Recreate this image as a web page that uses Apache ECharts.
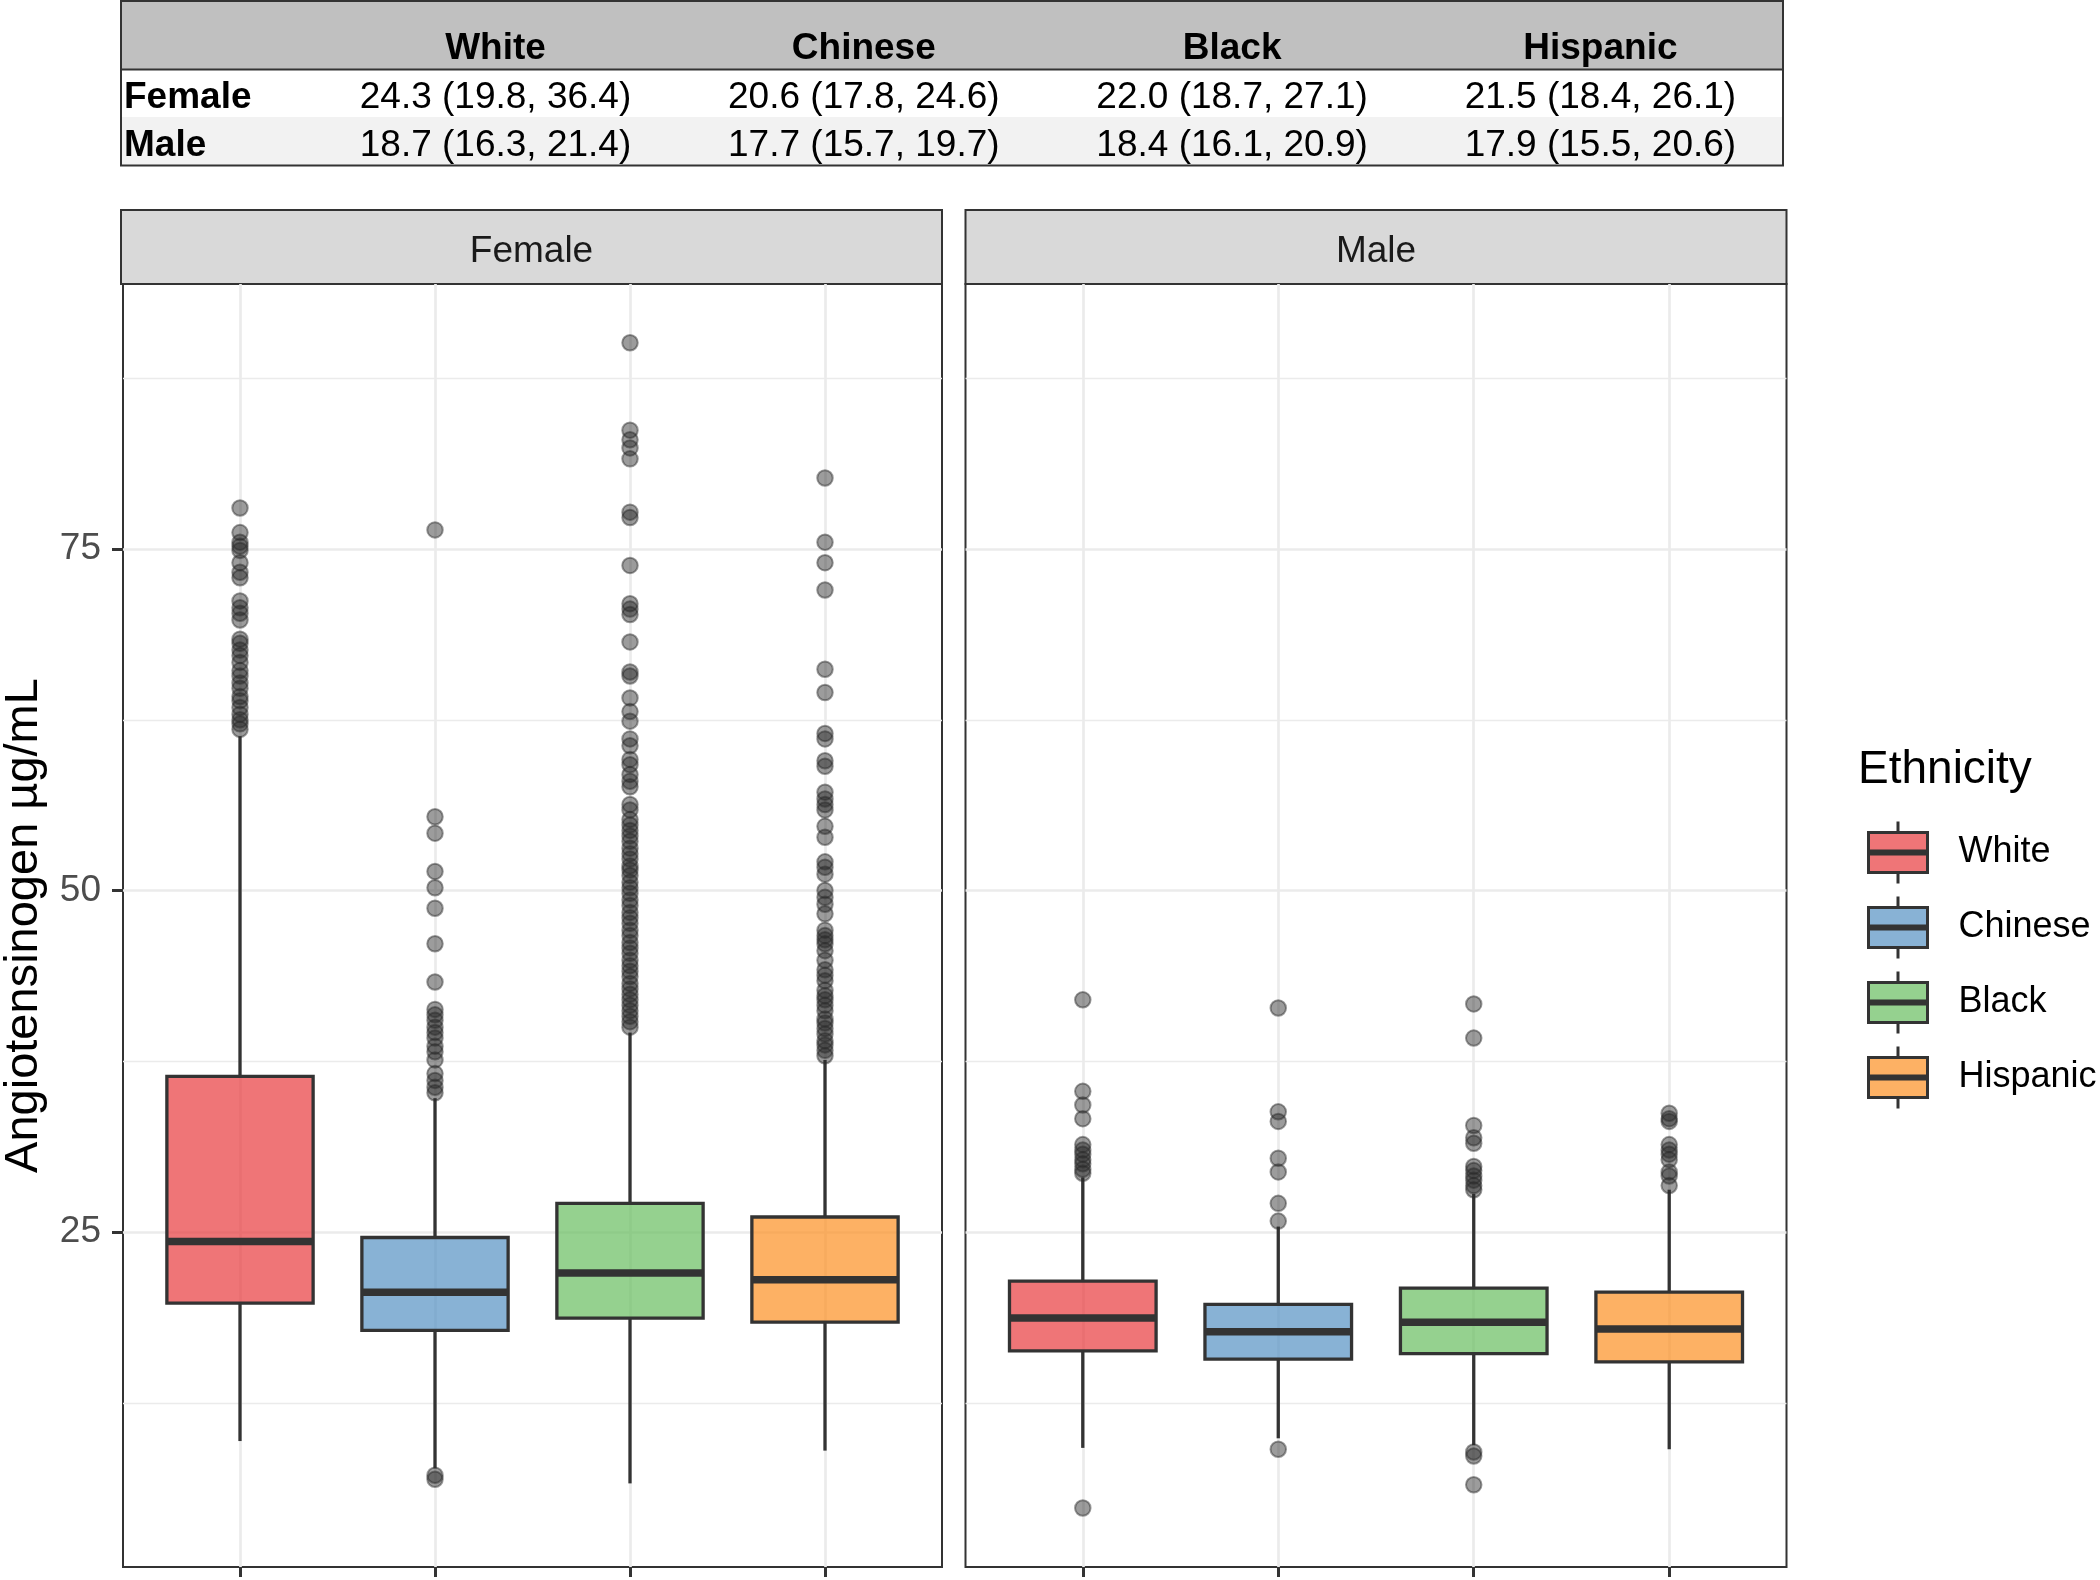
<!DOCTYPE html>
<html>
<head>
<meta charset="utf-8">
<script src="https://cdn.jsdelivr.net/npm/echarts@6/dist/echarts.min.js"></script>
<style>
  html, body { margin: 0; padding: 0; background: #fff; }
  #chart { width: 2100px; height: 1580px; }
</style>
</head>
<body>
<div id="chart"></div>
<script>
// categories
const ethnicities = ['White', 'Chinese', 'Black', 'Hispanic'];
const panels = ['Female', 'Male'];
const xPositions = [1, 2, 3, 4];
const yTicks = [25, 50, 75];
const yMinorTicks = [12.5, 37.5, 62.5, 87.5];

// box stats, order White, Chinese, Black, Hispanic
const femaleMedian = [24.3, 20.6, 22.0, 21.5];
const femaleQ1 = [19.8, 17.8, 18.7, 18.4];
const femaleQ3 = [36.4, 24.6, 27.1, 26.1];
const femaleLow = [9.7, 7.7, 6.6, 9.0];
const femaleHigh = [61.3, 34.8, 39.6, 37.6];

const maleMedian = [18.7, 17.7, 18.4, 17.9];
const maleQ1 = [16.3, 15.7, 16.1, 15.5];
const maleQ3 = [21.4, 19.7, 20.9, 20.6];
const maleLow = [9.2, 9.9, 9.4, 9.1];
const maleHigh = [29.0, 25.4, 27.8, 28.1];

// outliers
const femaleOutWhite = [78.0, 76.2, 75.5, 75.2, 74.9, 74.0, 73.3, 72.9, 71.2, 70.7, 70.3, 69.8, 68.4, 68.1, 67.6, 67.2, 66.7, 66.1, 65.7, 65.2, 64.8, 64.2, 63.9, 63.4, 62.9, 62.5, 62.2, 61.8];
const femaleOutChinese = [76.4, 55.4, 54.2, 51.4, 50.2, 48.7, 46.1, 43.3, 41.3, 40.9, 40.5, 40.0, 39.6, 39.2, 38.6, 38.2, 37.6, 36.6, 36.1, 35.6, 35.2, 7.2, 6.9];
const femaleOutBlack = [90.1, 83.7, 83.0, 82.4, 81.6, 77.7, 77.3, 73.8, 71.0, 70.6, 70.2, 68.2, 66.0, 65.7, 64.1, 63.1, 62.4, 61.1, 60.6, 59.6, 59.2, 58.5, 58.0, 57.6, 56.3, 55.9, 55.2, 54.8, 54.4, 54.0, 53.6, 53.1, 52.7, 52.3, 51.8, 51.5, 51.1, 50.6, 50.2, 49.8, 49.3, 48.9, 48.4, 48.0, 47.6, 47.1, 46.7, 46.2, 45.8, 45.4, 44.9, 44.5, 44.1, 43.7, 43.2, 42.8, 42.4, 42.0, 41.6, 41.2, 40.8, 40.4, 40.0];
const femaleOutHispanic = [80.2, 75.5, 74.0, 72.0, 66.2, 64.5, 61.5, 61.1, 59.5, 59.1, 57.2, 56.7, 56.3, 55.9, 54.7, 53.9, 52.1, 51.7, 51.2, 50.0, 49.5, 49.0, 48.3, 47.1, 46.7, 46.4, 46.1, 45.6, 44.9, 44.2, 43.8, 43.4, 42.7, 42.3, 42.0, 41.6, 41.2, 40.6, 40.3, 39.9, 39.5, 39.0, 38.7, 38.3, 37.9];

const maleOutWhite = [42.0, 35.3, 34.3, 33.3, 31.4, 31.0, 30.7, 30.3, 30.0, 29.6, 29.3, 4.8];
const maleOutChinese = [41.4, 33.8, 33.1, 30.4, 29.4, 27.1, 25.8, 9.1];
const maleOutBlack = [41.7, 39.2, 32.8, 31.9, 31.5, 29.8, 29.5, 29.1, 28.8, 28.4, 28.1, 8.9, 8.6, 6.5];
const maleOutHispanic = [33.7, 33.3, 33.1, 31.4, 31.0, 30.7, 30.3, 29.4, 29.1, 28.4];

const stats = [
  { low: femaleLow, q1: femaleQ1, med: femaleMedian, q3: femaleQ3, high: femaleHigh,
    out: [femaleOutWhite, femaleOutChinese, femaleOutBlack, femaleOutHispanic] },
  { low: maleLow, q1: maleQ1, med: maleMedian, q3: maleQ3, high: maleHigh,
    out: [maleOutWhite, maleOutChinese, maleOutBlack, maleOutHispanic] }
];

// styles / layout
const boxColors = ['rgba(232,58,61,0.7)', 'rgba(85,145,195,0.7)', 'rgba(104,189,95,0.7)', 'rgba(252,144,34,0.7)'];
const FONT = '"Liberation Sans", Arial, sans-serif';
const gridLefts = [121, 965.5];
const gridTop = 284, gridW = 821, gridH = 1283;
const stripTop = 210;
const tableLeft = 121, tableW = 1662;
const colCenters = [495.5, 863.8, 1232.1, 1600.4];

const chart = echarts.init(document.getElementById('chart'));

function renderBox(params, api) {
  const x = api.value(0);
  const low = api.coord([x, api.value(1)]);
  const q1 = api.coord([x, api.value(2)]);
  const med = api.coord([x, api.value(3)]);
  const q3 = api.coord([x, api.value(4)]);
  const high = api.coord([x, api.value(5)]);
  const half = api.size([0.75, 0])[0] / 2;
  return {
    type: 'group',
    children: [
      { type: 'line', shape: { x1: low[0], y1: low[1], x2: q1[0], y2: q1[1] }, style: { stroke: '#333', lineWidth: 3.3 } },
      { type: 'line', shape: { x1: q3[0], y1: q3[1], x2: high[0], y2: high[1] }, style: { stroke: '#333', lineWidth: 3.3 } },
      { type: 'rect', shape: { x: q3[0] - half, y: q3[1], width: half * 2, height: q1[1] - q3[1] },
        style: { fill: api.visual('color'), stroke: '#333', lineWidth: 3.3 } },
      { type: 'line', shape: { x1: med[0] - half, y1: med[1], x2: med[0] + half, y2: med[1] }, style: { stroke: '#333', lineWidth: 7.5 } }
    ]
  };
}

const series = [];
panels.forEach((p, g) => {
  const s = stats[g];
  ethnicities.forEach((eth, e) => {
    series.push({
      type: 'custom', name: eth, xAxisIndex: g, yAxisIndex: g,
      renderItem: renderBox,
      itemStyle: { color: boxColors[e] },
      encode: { x: 0, y: [1, 2, 3, 4, 5] },
      data: [[xPositions[e], s.low[e], s.q1[e], s.med[e], s.q3[e], s.high[e]]]
    });
  });
  const pts = [];
  s.out.forEach((arr, e) => arr.forEach(v => pts.push([xPositions[e], v])));
  series.push({
    type: 'scatter', name: 'outliers', xAxisIndex: g, yAxisIndex: g,
    symbolSize: 15.5,
    itemStyle: { color: 'rgba(40,40,40,0.58)', borderColor: 'rgba(40,40,40,0.58)', borderWidth: 2 },
    data: pts
  });
});

// table + facet strips
const graphic = [];
graphic.push({ type: 'rect', shape: { x: tableLeft, y: 1, width: tableW, height: 68.5 }, style: { fill: '#c0c0c0' } });
graphic.push({ type: 'rect', shape: { x: tableLeft, y: 117, width: tableW, height: 48.5 }, style: { fill: '#f2f2f2' } });
graphic.push({ type: 'line', shape: { x1: tableLeft, y1: 69.5, x2: tableLeft + tableW, y2: 69.5 }, style: { stroke: '#333', lineWidth: 2 } });
graphic.push({ type: 'rect', shape: { x: tableLeft, y: 1, width: tableW, height: 164.5 }, style: { fill: 'none', stroke: '#333', lineWidth: 2 } });
ethnicities.forEach((eth, e) => {
  graphic.push({ type: 'text', x: colCenters[e], y: 48.5,
    style: { text: eth, font: 'bold 37px ' + FONT, fill: '#000', align: 'center', verticalAlign: 'middle' } });
});
const rowY = [97.5, 145.5];
panels.forEach((p, g) => {
  const s = stats[g];
  graphic.push({ type: 'text', x: 124, y: rowY[g],
    style: { text: p, font: 'bold 37px ' + FONT, fill: '#000', align: 'left', verticalAlign: 'middle' } });
  ethnicities.forEach((eth, e) => {
    const t = s.med[e].toFixed(1) + ' (' + s.q1[e].toFixed(1) + ', ' + s.q3[e].toFixed(1) + ')';
    graphic.push({ type: 'text', x: colCenters[e], y: rowY[g],
      style: { text: t, font: '37px ' + FONT, fill: '#000', align: 'center', verticalAlign: 'middle' } });
  });
  graphic.push({ type: 'rect', shape: { x: gridLefts[g], y: stripTop, width: gridW, height: gridTop - stripTop },
    style: { fill: '#d9d9d9', stroke: '#333', lineWidth: 2 } });
  graphic.push({ type: 'text', x: gridLefts[g] + gridW / 2, y: (stripTop + gridTop) / 2 + 5,
    style: { text: p, font: '37px ' + FONT, fill: '#1a1a1a', align: 'center', verticalAlign: 'middle' } });
});

const option = {
  animation: false,
  backgroundColor: '#fff',
  textStyle: { fontFamily: FONT },
  title: {
    text: 'Ethnicity', left: 1853, top: 742,
    textStyle: { fontSize: 46, fontWeight: 'normal', color: '#000', fontFamily: FONT }
  },
  legend: {
    orient: 'vertical', left: 1862, top: 815,
    itemWidth: 59, itemHeight: 62, itemGap: 10,
    selectedMode: false,
    data: ethnicities,
    icon: 'path://M29.5,0 L29.5,11 M0,11 L59,11 L59,29.5 L0,29.5 Z M0,32.5 L59,32.5 L59,51 L0,51 Z M29.5,51 L29.5,62',
    itemStyle: { borderColor: '#333', borderWidth: 3 },
    textStyle: { fontSize: 36, color: '#000', padding: [0, 0, 0, 26] }
  },
  grid: panels.map((p, g) => ({
    left: gridLefts[g], top: gridTop, width: gridW, height: gridH,
    show: true, borderColor: '#333', borderWidth: 2, backgroundColor: 'transparent'
  })),
  xAxis: panels.map((p, g) => ({
    type: 'value', gridIndex: g, min: 0.4, max: 4.6,
    axisLine: { show: false },
    axisTick: { show: true, customValues: xPositions, length: 10, lineStyle: { color: '#333', width: 3 } },
    axisLabel: { show: false, customValues: xPositions },
    splitLine: { show: true, lineStyle: { color: '#ebebeb', width: 2.7 } }
  })),
  yAxis: [
    ...panels.map((p, g) => ({
      type: 'value', gridIndex: g, min: 0.48, max: 94.4,
      name: g === 0 ? 'Angiotensinogen µg/mL' : '',
      nameLocation: 'middle', nameGap: 75,
      nameTextStyle: { fontSize: 47, color: '#000', fontFamily: FONT },
      axisLine: { show: false },
      axisTick: { show: g === 0, customValues: yTicks, length: 11, lineStyle: { color: '#333', width: 3 } },
      axisLabel: { show: g === 0, customValues: yTicks, fontSize: 37, color: '#4d4d4d', margin: 22 },
      splitLine: { show: true, lineStyle: { color: '#ebebeb', width: 2.7 } }
    })),
    ...panels.map((p, g) => ({
      type: 'value', gridIndex: g, min: 0.48, max: 94.4,
      axisLine: { show: false },
      axisTick: { show: false, customValues: yMinorTicks },
      axisLabel: { show: false, customValues: yMinorTicks },
      splitLine: { show: true, lineStyle: { color: '#ebebeb', width: 1.4 } }
    }))
  ],
  graphic: graphic,
  series: series
};

chart.setOption(option);
</script>
</body>
</html>
